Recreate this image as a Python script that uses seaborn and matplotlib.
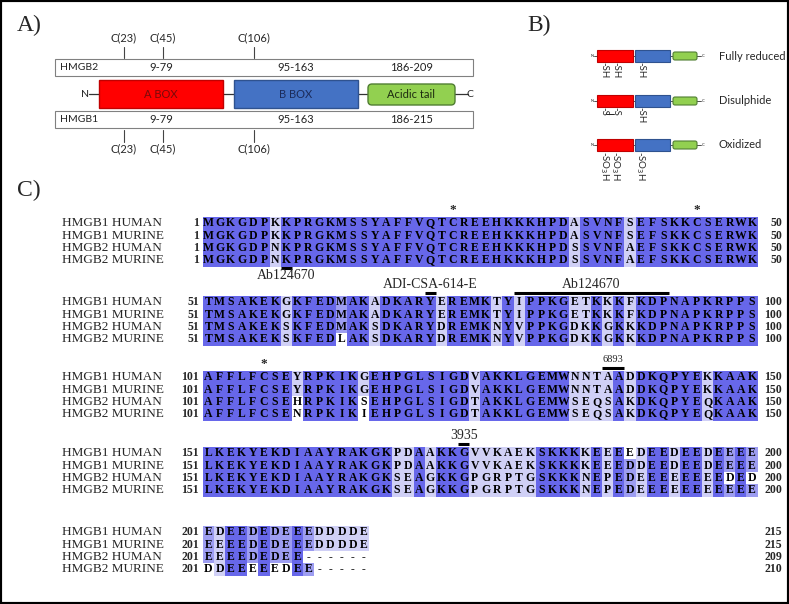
import numpy as np
import pandas as pd
import seaborn as sns
import matplotlib.pyplot as plt
from matplotlib.colors import ListedColormap
from matplotlib.patches import Rectangle, FancyBboxPatch

# ---------------- data ----------------
seq_names = ["HMGB1 HUMAN", "HMGB1 MURINE", "HMGB2 HUMAN", "HMGB2 MURINE"]

hmgb1_human = ("MGKGDPKKPRGKMSSYAFFVQTCREEHKKKHPDASVNFSEFSKKCSERWK"
               "TMSAKEKGKFEDMAKADKARYEREMKTYIPPKGETKKKFKDPNAPKRPPS"
               "AFFLFCSEYRPKIKGEHPGLSIGDVAKKLGEMWNNTAADDKQPYEKKAAK"
               "LKEKYEKDIAAYRAKGKPDAAKKGVVKAEKSKKKKEEEEDEEDEEDEEEE"
               "EDEEDEDEEEDDDDE")
hmgb1_murine = ("MGKGDPKKPRGKMSSYAFFVQTCREEHKKKHPDASVNFSEFSKKCSERWK"
                "TMSAKEKGKFEDMAKADKARYEREMKTYIPPKGETKKKFKDPNAPKRPPS"
                "AFFLFCSEYRPKIKGEHPGLSIGDVAKKLGEMWNNTAADDKQPYEKKAAK"
                "LKEKYEKDIAAYRAKGKPDAAKKGVVKAEKSKKKKEEEDDEEDEEDEEEE"
                "EEEEDEDEEEDDDDE")
hmgb2_human = ("MGKGDPNKPRGKMSSYAFFVQTCREEHKKKHPDSSVNFAEFSKKCSERWK"
               "TMSAKEKSKFEDMAKSDKARYDREMKNYVPPKGDKKGKKKDPNAPKRPPS"
               "AFFLFCSEHRPKIKSEHPGLSIGDTAKKLGEMWSEQSAKDKQPYEQKAAK"
               "LKEKYEKDIAAYRAKGKSEAGKKGPGRPTGSKKKNEPEDEEEEEEEEDED"
               "EEEEDEDEE")
hmgb2_murine = ("MGKGDPNKPRGKMSSYAFFVQTCREEHKKKHPDSSVNFAEFSKKCSERWK"
                "TMSAKEKSKFEDLAKSDKARYDREMKNYVPPKGDKKGKKKDPNAPKRPPS"
                "AFFLFCSENRPKIKIEHPGLSIGDTAKKLGEMWSEQSAKDKQPYEQKAAK"
                "LKEKYEKDIAAYRAKGKSEAGKKGPGRPTGSKKKNEPEDEEEEEEEEEEE"
                "DDEEEEEDEE")

# domains (panel A)
domain_names = ["A BOX", "B BOX", "Acidic tail"]
hmgb1_ranges = ["9-79", "95-163", "186-215"]
hmgb2_ranges = ["9-79", "95-163", "186-209"]
cys_positions = [23, 45, 106]

# redox states (panel B)
redox_states = ["Fully reduced", "Disulphide", "Oxidized"]
redox_groups = [["SH", "SH", "SH"], ["S", "S", "SH"],
                ["SO$_3$H", "SO$_3$H", "SO$_3$H"]]

# antibody epitopes (label, first residue, last residue, side)
epitopes = [("Ab124670", 8, 8, "below"),
            ("ADI-CSA-614-E", 71, 71, "above"),
            ("Ab124670", 79, 92, "above"),
            ("6893", 137, 138, "above"),
            ("3935", 174, 174, "above")]

# ---------------- style ----------------
sns.set_style("white")
plt.rcParams['font.family'] = ['Liberation Serif', 'DejaVu Serif']
SERIF = 'Liberation Serif'
SANS = 'Lato'

W, H = 789, 604
fig = plt.figure(figsize=(W / 100, H / 100), dpi=100)
ov = fig.add_axes([0, 0, 1, 1])
ov.set_xlim(0, W)
ov.set_ylim(H, 0)
ov.axis('off')
ov.add_patch(Rectangle((0, 0), W, H, fill=False, ec='black', lw=3))

RED, RED_E = '#FF0000', '#C00000'
BLUE, BLUE_E = '#4472C4', '#2F528F'
GREEN, GREEN_E = '#92D050', '#507E32'

# ---------------- panel A ----------------
ov.text(17, 25, "A)", fontsize=17, family=SERIF, va='center')

box_x = [(99, 223), (234, 358), (368, 455)]
res_knots = [9, 79, 95, 163]
px_knots = [99, 223, 234, 358]
cys_x = np.interp(cys_positions, res_knots, px_knots)

for y0, name, ranges in [(59, "HMGB2", hmgb2_ranges), (111, "HMGB1", hmgb1_ranges)]:
    ov.add_patch(Rectangle((55, y0), 418, 17, fc='white', ec='#808080', lw=0.8))
    ov.text(60, y0 + 8.5, name, fontsize=7.5, family=SANS, va='center', color='#222222')
    for (a, b), r in zip(box_x, ranges):
        ov.text((a + b) / 2, y0 + 8.5, r, fontsize=8, family=SANS,
                ha='center', va='center', color='#222222')

ov.plot([89, 468], [94, 94], color='#333333', lw=0.9, zorder=1)
ov.text(85, 94.5, "N", fontsize=7.5, family=SANS, ha='center', va='center')
ov.text(470, 94.5, "C", fontsize=7.5, family=SANS, ha='center', va='center')
ov.add_patch(Rectangle((box_x[0][0], 80), box_x[0][1] - box_x[0][0], 28,
                       fc=RED, ec=RED_E, lw=1, zorder=2))
ov.add_patch(Rectangle((box_x[1][0], 80), box_x[1][1] - box_x[1][0], 28,
                       fc=BLUE, ec=BLUE_E, lw=1, zorder=2))
ov.add_patch(FancyBboxPatch((box_x[2][0], 84), box_x[2][1] - box_x[2][0], 21,
                            boxstyle="round,pad=0,rounding_size=4",
                            fc=GREEN, ec=GREEN_E, lw=1, zorder=2))
for (a, b), nm, c in zip(box_x, domain_names, ['#7a0a0a', '#1b2b5a', '#1d2b10']):
    ov.text((a + b) / 2, 94.5, nm, fontsize=8, family=SANS,
            ha='center', va='center', color=c, zorder=3)

for cx, cp in zip(cys_x, cys_positions):
    ov.plot([cx, cx], [47, 58], color='#444444', lw=0.8)
    ov.text(cx, 38, f"C({cp})", fontsize=8, family=SANS, ha='center', va='center')
    ov.plot([cx, cx], [130, 142], color='#444444', lw=0.8)
    ov.text(cx, 149, f"C({cp})", fontsize=8, family=SANS, ha='center', va='center')

# ---------------- panel B ----------------
ov.text(527, 25, "B)", fontsize=17, family=SERIF, va='center')
mini_knots = [597, 633, 635, 670]
mini_cys = np.interp(cys_positions, res_knots, mini_knots)
for y0, state, groups in zip([50, 95, 139], redox_states, redox_groups):
    yc = y0 + 6
    ov.plot([594, 701], [yc, yc], color='#333333', lw=0.6, zorder=1)
    ov.text(592, yc, "N", fontsize=3, family=SANS, ha='center', va='center')
    ov.text(703.5, yc, "C", fontsize=3, family=SANS, ha='center', va='center')
    ov.add_patch(Rectangle((597, y0), 36, 12, fc=RED, ec=RED_E, lw=0.8, zorder=2))
    ov.add_patch(Rectangle((635, y0), 35, 12, fc=BLUE, ec=BLUE_E, lw=0.8, zorder=2))
    ov.add_patch(FancyBboxPatch((673, y0 + 2), 24, 8,
                                boxstyle="round,pad=0,rounding_size=2",
                                fc=GREEN, ec=GREEN_E, lw=0.8, zorder=2))
    ov.text(719, yc, state, fontsize=8, family=SANS, va='center')
    for cx, g in zip(mini_cys, groups):
        ov.text(cx, y0 + 12, "-" + g, fontsize=7, family=SANS, rotation=270,
                ha='center', va='top', rotation_mode='default')
    if state == "Disulphide":
        ov.plot([mini_cys[0] + 2, mini_cys[1] - 2], [y0 + 19, y0 + 19],
                color='black', lw=0.6)

# ---------------- panel C ----------------
ov.text(17, 190, "C)", fontsize=17, family=SERIF, va='center')

raw = [hmgb1_human, hmgb1_murine, hmgb2_human, hmgb2_murine]
aln_len = max(len(s) for s in raw)
aln = np.array([list(s.ljust(aln_len, '-')) for s in raw])

# percent identity shading (Jalview style): >80, >60, >40 %
level = np.zeros(aln.shape, dtype=int)
for j in range(aln_len):
    col = aln[:, j]
    for i, r in enumerate(col):
        if r == '-':
            continue
        frac = np.mean(col == r)
        level[i, j] = 3 if frac > 0.8 else 2 if frac > 0.6 else 1 if frac > 0.4 else 0

cmap = ListedColormap(['white', '#d0d0f6', '#9d9df1', '#6767ea'])

seq_x0, cell_w, row_h = 203, 11.09, 12.4
block_tops = [217, 296, 371, 447, 526]
block_len = 50

for b, top in enumerate(block_tops):
    s, e = b * block_len, min((b + 1) * block_len, aln_len)
    n = e - s
    ax = fig.add_axes([seq_x0 / W, 1 - (top + 4 * row_h) / H,
                       n * cell_w / W, 4 * row_h / H])
    df = pd.DataFrame(level[:, s:e], index=seq_names,
                      columns=range(s + 1, e + 1))
    sns.heatmap(df, ax=ax, cmap=cmap, vmin=0, vmax=3, cbar=False,
                annot=aln[:, s:e], fmt='', linewidths=0,
                xticklabels=False, yticklabels=False,
                annot_kws=dict(fontsize=8.5, fontweight='bold',
                               family=SERIF, color='black'))
    ax.set_xlabel('')
    ax.set_ylabel('')
    for i, nm in enumerate(seq_names):
        yc = top + (i + 0.5) * row_h
        ov.text(62, yc, nm, fontsize=9.5, family=SERIF, va='center')
        ov.text(199, yc, str(s + 1), fontsize=8.5, family=SERIF,
                fontweight='bold', ha='right', va='center')
        end_num = int(np.sum(aln[i, :e] != '-'))
        ov.text(782, yc, str(end_num), fontsize=8.5, family=SERIF,
                fontweight='bold', ha='right', va='center')

def res_left(res):
    return seq_x0 + ((res - 1) % block_len) * cell_w

# conserved cysteines
for cp in cys_positions:
    top = block_tops[(cp - 1) // block_len]
    ov.text(res_left(cp) + cell_w / 2, top - 1.5, "*", fontsize=9.5,
            family=SERIF, fontweight='bold', ha='center', va='bottom')

# epitope bars
for label, r0, r1, side in epitopes:
    top = block_tops[(r0 - 1) // block_len]
    x0, x1 = res_left(r0), res_left(r1) + cell_w
    if side == "below":
        by = top + 4 * row_h + 1.5
        ty = by + 7.5
    else:
        by = top - 3.5
        ty = by - 8
    ov.plot([x0, x1], [by, by], color='black', lw=2.2, solid_capstyle='butt')
    fs = 7.5 if label == "6893" else 10
    ov.text((x0 + x1) / 2, ty, label, fontsize=fs, family=SERIF,
            ha='center', va='center')

fig.savefig("out.png", dpi=100, facecolor='white')
